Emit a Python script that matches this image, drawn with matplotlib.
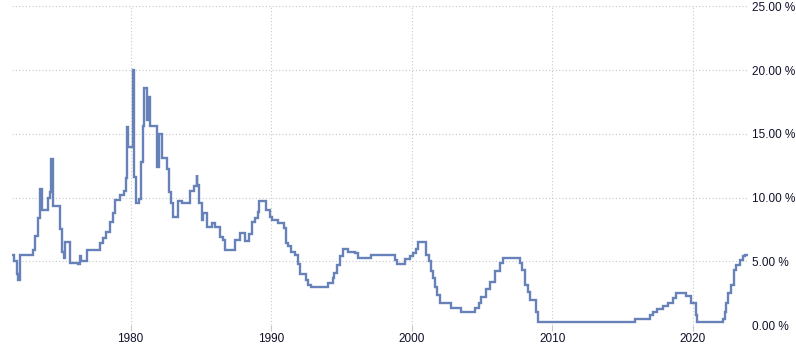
import matplotlib
matplotlib.use("Agg")
import matplotlib.pyplot as plt

# Step series: (decimal year, rate in %)
years = [
    1971.61, 1971.70, 1971.93, 1971.98, 1972.13, 1973.05, 1973.19, 1973.41, 1973.58, 1973.66,
    1974.12, 1974.26, 1974.37, 1974.47, 1974.97, 1975.11, 1975.26, 1975.36, 1975.72, 1976.25,
    1976.39, 1976.50, 1976.93, 1977.60, 1977.82, 1978.03, 1978.24, 1978.53, 1978.74, 1978.88,
    1979.24, 1979.52, 1979.70, 1979.77, 1979.84, 1980.14, 1980.24, 1980.41, 1980.63, 1980.71,
    1980.85, 1980.97, 1981.14, 1981.25, 1981.37, 1981.89, 1982.01, 1982.25, 1982.58, 1982.72,
    1982.87, 1983.03, 1983.34, 1983.65, 1984.22, 1984.50, 1984.69, 1984.75, 1984.88, 1985.05,
    1985.18, 1985.41, 1985.76, 1986.00, 1986.35, 1986.56, 1986.71, 1987.42, 1987.77, 1988.13,
    1988.44, 1988.61, 1988.84, 1989.03, 1989.13, 1989.62, 1989.91, 1990.07, 1990.50, 1990.92,
    1991.05, 1991.19, 1991.38, 1991.69, 1991.92, 1992.04, 1992.47, 1992.63, 1992.87, 1994.05,
    1994.37, 1994.46, 1994.65, 1994.89, 1995.12, 1995.48, 1995.95, 1996.15, 1997.14, 1998.80,
    1998.94, 1999.51, 1999.87, 2000.10, 2000.29, 2000.46, 2001.05, 2001.25, 2001.36, 2001.52,
    2001.68, 2001.81, 2002.00, 2002.83, 2003.54, 2004.49, 2004.77, 2004.96, 2005.27, 2005.55,
    2005.91, 2006.27, 2006.50, 2007.69, 2007.88, 2008.09, 2008.26, 2008.40, 2008.88, 2008.99,
    2015.87, 2016.93, 2017.15, 2017.45, 2017.88, 2018.24, 2018.59, 2018.83, 2019.54, 2019.90,
    2020.22, 2020.32, 2022.15, 2022.27, 2022.39, 2022.50, 2022.75, 2022.91, 2023.10, 2023.34,
    2023.57, 2023.69, 2023.93,
]
rates = [
    5.50, 5.00, 4.00, 3.50, 5.50, 5.90, 7.00, 8.40, 10.70, 9.00,
    10.00, 10.40, 13.00, 9.30, 7.50, 5.75, 5.25, 6.50, 4.90, 4.75,
    5.40, 5.00, 5.90, 5.90, 6.40, 6.80, 7.30, 8.10, 8.80, 9.80,
    10.20, 10.50, 11.50, 15.50, 14.00, 20.00, 11.60, 9.60, 9.90, 12.80,
    15.60, 18.60, 16.10, 17.90, 15.60, 12.40, 15.00, 13.10, 12.20, 10.40,
    9.60, 8.50, 9.70, 9.60, 10.50, 10.90, 11.80, 11.00, 9.60, 8.25,
    8.80, 7.70, 8.00, 7.70, 6.90, 6.70, 5.90, 6.70, 7.20, 6.60,
    7.10, 8.10, 8.40, 8.90, 9.75, 9.00, 8.50, 8.25, 8.00, 7.60,
    6.40, 6.20, 5.75, 5.50, 4.75, 4.00, 3.50, 3.10, 3.00, 3.30,
    3.70, 4.10, 4.70, 5.40, 6.00, 5.75, 5.65, 5.25, 5.50, 5.10,
    4.80, 5.20, 5.40, 5.65, 6.00, 6.50, 5.50, 5.00, 4.20, 3.70,
    3.00, 2.35, 1.75, 1.30, 1.05, 1.30, 1.70, 2.20, 2.80, 3.40,
    4.20, 4.85, 5.25, 4.85, 4.30, 3.10, 2.60, 2.00, 1.05, 0.25,
    0.50, 0.75, 1.00, 1.25, 1.50, 1.75, 2.15, 2.50, 2.25, 1.75,
    0.80, 0.25, 0.50, 1.00, 1.70, 2.50, 3.15, 4.30, 4.70, 5.10,
    5.40, 5.50, 5.50,
]

x_ticks = [1980, 1990, 2000, 2010, 2020]
x_tick_labels = ["1980", "1990", "2000", "2010", "2020"]
y_ticks = [0, 5, 10, 15, 20, 25]
y_tick_labels = ["0.00 %", "5.00 %", "10.00 %", "15.00 %", "20.00 %", "25.00 %"]

plt.rcParams['font.family'] = ['Liberation Sans', 'DejaVu Sans']

fig = plt.figure(figsize=(7.96, 3.52), dpi=100)
ax = fig.add_axes([12/796, 1 - 325/352, 736/796, (325 - 6.3)/352])

ax.plot(years, rates, drawstyle='steps-post', color='#6682b8', lw=1.7,
        solid_joinstyle='miter', zorder=3)

ax.set_xlim(1971.56, 2023.93)
ax.set_ylim(0, 25)

ax.set_xticks(x_ticks)
ax.set_xticklabels(x_tick_labels)
ax.set_yticks(y_ticks)
ax.set_yticklabels(y_tick_labels)
ax.yaxis.tick_right()

ax.grid(True, color='#c8c8c8', linestyle=(0, (1, 2)), linewidth=0.8)
for s in ax.spines.values():
    s.set_visible(False)

ax.tick_params(axis='x', length=4, color='#c8c8c8', pad=2, labelsize=8.5,
               labelcolor='#10102a')
ax.tick_params(axis='y', length=0, pad=3, labelsize=8.5, labelcolor='#10102a')

fig.savefig('out.png', dpi=100)
